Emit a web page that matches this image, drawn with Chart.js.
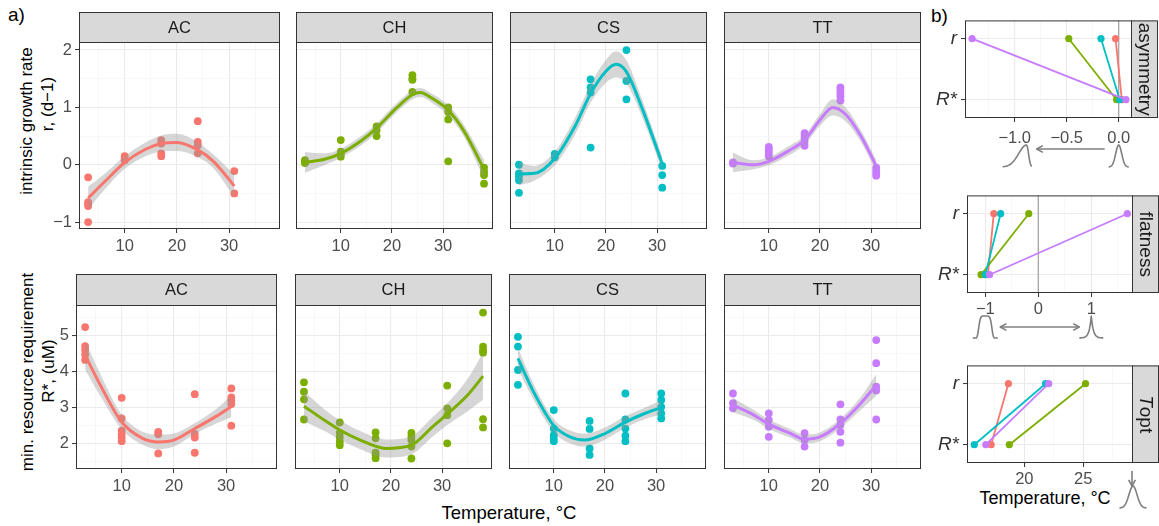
<!DOCTYPE html>
<html>
<head>
<meta charset="utf-8">
<script src="https://cdn.jsdelivr.net/npm/chart.js@4.4.0/dist/chart.umd.min.js"></script>
<style>
  body { margin: 0; background: #fff; width: 1159px; height: 526px; position: relative; overflow: hidden; font-family: "Liberation Sans", Arial, sans-serif; }
  .t { position: absolute; white-space: nowrap; color: #000; line-height: 1; }
  .ctr { transform: translate(-50%, -50%); }
  .rot { transform: translate(-50%, -50%) rotate(-90deg); }
</style>
</head>
<body>
<div class="t" style="left:8px;top:5px;font-size:19px">a)</div>
<div class="t" style="left:931px;top:6px;font-size:19px">b)</div>
<div class="t rot" style="left:26px;top:121px;font-size:17px">intrinsic growth rate</div>
<div class="t rot" style="left:47px;top:104px;font-size:17px">r, (d&minus;1)</div>
<div class="t rot" style="left:27px;top:372px;font-size:17px">min. resource requirement</div>
<div class="t rot" style="left:48px;top:371px;font-size:17px">R*, (uM)</div>
<div class="t ctr" style="left:509px;top:513px;font-size:18.5px">Temperature, °C</div>
<div class="t ctr" style="left:1045px;top:498px;font-size:18px">Temperature, °C</div>

<script>
const FONT = '"Liberation Sans", Arial, sans-serif';
const speciesNames = ["AC", "CH", "CS", "TT"];
const speciesColours = ["#F8766D", "#7CAE00", "#00BFC4", "#C77CFF"];

// r, growth rate: measured points by temperature
const rPtsAC = { 3: [-0.22, -0.65, -0.68, -0.72, -1.0], 10: [0.15, 0.1, 0.08], 17: [0.43, 0.37, 0.2, 0.15], 24: [0.76, 0.4, 0.34, 0.2], 31: [-0.11, -0.5] };
const rPtsCH = { 3: [0.08, 0.05, 0.03, 0.05], 10: [0.43, 0.23, 0.19, 0.14], 17: [0.67, 0.6, 0.5], 24: [1.56, 1.5, 1.48, 1.27], 31: [1.0, 0.92, 0.79, 0.06], 38: [-0.05, -0.12, -0.18, -0.33] };
const rPtsCS = { 3: [0.0, -0.15, -0.2, -0.27, -0.49], 10: [0.19, 0.13], 17: [1.49, 1.35, 1.26, 0.3], 24: [2.0, 1.46, 1.14], 31: [-0.02, -0.18, -0.4] };
const rPtsTT = { 3: [0.04, 0.02], 10: [0.31, 0.27, 0.23, 0.19, 0.15], 17: [0.55, 0.5, 0.46, 0.4, 0.33], 24: [1.35, 1.3, 1.25, 1.19, 1.12], 31: [-0.05, -0.1, -0.15, -0.19] };

// r, smooth fit (temps, fit, ribbon half width)
const rFitTAC = [3, 6, 10, 14, 17, 20, 24, 27, 31];
const rFitAC = [-0.58, -0.31, 0.04, 0.27, 0.37, 0.39, 0.26, 0.06, -0.37];
const rSeAC = [0.2, 0.14, 0.11, 0.12, 0.14, 0.15, 0.13, 0.12, 0.2];
const rFitTCH = [3, 7, 10, 14, 17, 21, 24, 25.5, 28, 31, 34, 38];
const rFitCH = [0.04, 0.1, 0.2, 0.42, 0.64, 1.0, 1.22, 1.26, 1.15, 0.95, 0.6, -0.08];
const rSeCH = [0.18, 0.1, 0.08, 0.08, 0.08, 0.08, 0.08, 0.08, 0.08, 0.09, 0.1, 0.16];
const rFitTCS = [3, 6, 10, 14, 17, 20, 22, 24, 27, 31];
const rFitCS = [-0.16, -0.15, 0.11, 0.68, 1.24, 1.63, 1.75, 1.62, 1.0, 0.02];
const rSeCS = [0.2, 0.13, 0.12, 0.15, 0.16, 0.2, 0.23, 0.2, 0.15, 0.12];
const rFitTTT = [3, 7, 10, 14, 17, 20, 22.5, 25, 28, 31];
const rFitTT = [0.04, 0.0, 0.06, 0.25, 0.43, 0.78, 1.0, 0.88, 0.5, -0.02];
const rSeTT = [0.17, 0.08, 0.07, 0.08, 0.08, 0.1, 0.14, 0.12, 0.1, 0.1];

// R*, min. resource requirement: measured points
const sPtsAC = { 3: [5.23, 4.7, 4.6, 4.47, 4.32], 10: [3.27, 2.7, 2.36, 2.26, 2.17, 2.07], 17: [2.33, 2.26, 1.73], 24: [3.37, 2.27, 2.17, 1.75], 31: [3.53, 3.28, 3.2, 3.1, 2.5] };
const sPtsCH = { 3: [3.7, 3.44, 3.23, 2.67], 10: [2.59, 2.3, 2.18, 2.06, 1.96], 17: [2.31, 2.15, 1.75, 1.69, 1.6], 24: [2.3, 2.19, 2.1, 1.92, 1.59], 31: [3.61, 2.98, 2.79, 2.01], 38: [5.63, 4.69, 4.59, 4.52, 2.68, 2.45] };
const sPtsCS = { 3: [4.96, 4.69, 4.04, 3.63], 10: [2.93, 2.42, 2.24, 2.15, 2.07], 17: [2.63, 2.41, 1.87, 1.69], 24: [3.39, 2.67, 2.42, 2.22, 2.07], 31: [3.39, 3.21, 3.02, 2.84, 2.7] };
const sPtsTT = { 3: [3.39, 3.12, 2.98], 10: [2.84, 2.66, 2.47, 2.19], 17: [2.29, 2.1, 1.92], 24: [3.09, 2.67, 2.52, 2.33, 2.03], 31: [4.87, 4.23, 3.58, 3.47, 2.67] };

const sFitTAC = [3, 6, 10, 14, 17, 20, 24, 28, 31];
const sFitAC = [4.45, 3.6, 2.6, 2.15, 2.05, 2.1, 2.42, 2.75, 3.03];
const sSeAC = [0.4, 0.3, 0.2, 0.18, 0.2, 0.18, 0.15, 0.2, 0.3];
const sFitTCH = [3, 7, 10, 14, 19, 24, 28, 31, 35, 38];
const sFitCH = [3.04, 2.65, 2.38, 2.1, 1.87, 1.96, 2.45, 2.82, 3.35, 3.87];
const sSeCH = [0.42, 0.3, 0.27, 0.25, 0.25, 0.25, 0.27, 0.3, 0.45, 0.65];
const sFitTCS = [3, 6, 10, 13, 16, 20, 24, 28, 31];
const sFitCS = [4.36, 3.45, 2.5, 2.2, 2.1, 2.28, 2.6, 2.85, 3.0];
const sSeCS = [0.3, 0.22, 0.18, 0.18, 0.18, 0.17, 0.16, 0.16, 0.2];
const sFitTTT = [3, 7, 10, 14, 17, 20, 24, 28, 31];
const sFitTT = [3.07, 2.8, 2.54, 2.3, 2.13, 2.19, 2.56, 3.12, 3.62];
const sSeTT = [0.2, 0.14, 0.13, 0.12, 0.12, 0.12, 0.13, 0.18, 0.3];

// b) trait values at r and R* (order AC, CH, CS, TT)
const asymR = [-0.03, -0.48, -0.17, -1.41];
const asymRstar = [0.03, -0.02, 0.01, 0.07];
const flatR = [-0.84, -0.18, -0.71, 1.68];
const flatRstar = [-0.95, -1.08, -1.0, -0.92];
const toptR = [18.64, 25.2, 21.8, 22.07];
const toptRstar = [17.17, 18.72, 15.74, 16.72];

const mult = (v, m) => Math.abs(v / m - Math.round(v / m)) < 1e-6;
const fmt = s => String(s).replace("-", "\u2212");

function toPoints(obj) {
  const pts = [];
  Object.keys(obj).forEach(t => obj[t].forEach(v => pts.push({ x: Number(t), y: v })));
  return pts;
}
function toLine(ts, vs, half, sign) {
  return ts.map((t, i) => ({ x: t, y: vs[i] + (half ? sign * half[i] : 0) }));
}
function makeCanvas(x, y, w, h) {
  const c = document.createElement("canvas");
  c.width = w; c.height = h;
  c.style.cssText = `position:absolute;left:${x}px;top:${y}px;width:${w}px;height:${h}px`;
  document.body.appendChild(c);
  return c;
}

// small grey sketch glyphs below the b) panels
const shapes = {
  normal: u => Math.exp(-0.5 * (u / 0.3) ** 2),
  skew: u => u < 0.65 ? Math.exp(-0.5 * ((u - 0.65) / 0.55) ** 2) : Math.exp(-0.5 * ((u - 0.65) / 0.13) ** 2),
  flat: u => Math.exp(-((Math.abs(u) / 0.55) ** 6)),
  peak: u => Math.exp(-Math.abs(u) / 0.17),
};
function bell(ctx, cx, base, halfW, h, shape) {
  ctx.beginPath();
  for (let i = 0; i <= 40; i++) {
    const u = -1 + i / 20;
    const x = cx + u * halfW, y = base - h * shapes[shape](u);
    if (i) ctx.lineTo(x, y); else ctx.moveTo(x, y);
  }
  ctx.stroke();
}
function arrow(ctx, x1, y1, x2, y2, both) {
  const head = (xa, ya, xb, yb) => {
    const ang = Math.atan2(yb - ya, xb - xa);
    ctx.beginPath();
    ctx.moveTo(xb - 7 * Math.cos(ang - 0.5), yb - 7 * Math.sin(ang - 0.5));
    ctx.lineTo(xb, yb);
    ctx.lineTo(xb - 7 * Math.cos(ang + 0.5), yb - 7 * Math.sin(ang + 0.5));
    ctx.stroke();
  };
  ctx.beginPath(); ctx.moveTo(x1, y1); ctx.lineTo(x2, y2); ctx.stroke();
  head(x1, y1, x2, y2);
  if (both) head(x2, y2, x1, y1);
}

const facetPlugin = {
  id: "facet",
  beforeDatasetsDraw(chart, args, o) {
    if (!o.zeroLine) return;
    const { ctx, chartArea: a } = chart;
    const x = chart.scales.x.getPixelForValue(0);
    ctx.save();
    ctx.strokeStyle = "#A6A6A6"; ctx.lineWidth = 1.3;
    ctx.beginPath(); ctx.moveTo(x, a.top); ctx.lineTo(x, a.bottom); ctx.stroke();
    ctx.restore();
  },
  afterDraw(chart, args, o) {
    const { ctx, chartArea: a } = chart;
    ctx.save();
    ctx.strokeStyle = "#333333"; ctx.lineWidth = 1;
    ctx.strokeRect(a.left + 0.5, a.top + 0.5, a.width - 1, a.height - 1);
    ctx.fillStyle = "#D9D9D9";
    if (o.side === "top") {
      ctx.fillRect(a.left, a.top - o.size, a.width, o.size);
      ctx.strokeRect(a.left + 0.5, a.top - o.size + 0.5, a.width - 1, o.size);
      ctx.fillStyle = "#1A1A1A";
      ctx.font = `${o.fontSize}px ${FONT}`;
      ctx.textAlign = "center"; ctx.textBaseline = "middle";
      ctx.fillText(o.text, (a.left + a.right) / 2, a.top - o.size / 2 + 1);
    } else {
      ctx.fillRect(a.right, a.top, o.size, a.height);
      ctx.strokeRect(a.right - 0.5, a.top + 0.5, o.size, a.height - 1);
      ctx.fillStyle = "#1A1A1A";
      ctx.translate(a.right + o.size / 2, (a.top + a.bottom) / 2);
      ctx.rotate(Math.PI / 2);
      ctx.textBaseline = "middle";
      if (o.italicFirst) {
        ctx.font = `italic ${o.fontSize}px ${FONT}`;
        const w1 = ctx.measureText(o.text[0]).width;
        ctx.font = `${o.fontSize}px ${FONT}`;
        const w2 = ctx.measureText(o.text.slice(1)).width;
        ctx.textAlign = "left";
        ctx.font = `italic ${o.fontSize}px ${FONT}`;
        ctx.fillText(o.text[0], -(w1 + w2) / 2, 1);
        ctx.font = `${o.fontSize}px ${FONT}`;
        ctx.fillText(o.text.slice(1), -(w1 + w2) / 2 + w1, 1);
      } else {
        ctx.font = `${o.fontSize}px ${FONT}`;
        ctx.textAlign = "center";
        ctx.fillText(o.text, 0, 1);
      }
    }
    ctx.restore();
    if (o.glyph) {
      const xs = chart.scales.x;
      ctx.save();
      ctx.strokeStyle = "#7F7F7F"; ctx.lineWidth = 1.6; ctx.lineJoin = "round";
      const b = a.bottom;
      if (o.glyph === "asym") {
        const x0 = xs.getPixelForValue(0), xm = xs.getPixelForValue(-1);
        bell(ctx, x0, b + 49, 10, 22, "normal");
        bell(ctx, xm + 2.5, b + 49, 14.5, 22, "skew");
        arrow(ctx, x0 - 14, b + 31, xm + 22, b + 31, false);
      } else if (o.glyph === "flat") {
        const xm = xs.getPixelForValue(-1), xp = xs.getPixelForValue(1);
        bell(ctx, xm, b + 45, 12.5, 22, "flat");
        bell(ctx, xp, b + 45, 12, 22, "peak");
        arrow(ctx, xm + 15, b + 34, xp - 12, b + 34, true);
      } else if (o.glyph === "topt") {
        bell(ctx, a.right, b + 45, 13.5, 22, "normal");
        arrow(ctx, a.right - 1, b + 8, a.right - 1, b + 23, false);
      }
      ctx.restore();
    }
  }
};

Chart.defaults.font.family = FONT;
Chart.defaults.color = "#4D4D4D";

function gridOpts(isMajor, ticks) {
  return {
    color: c => isMajor(c.tick.value) ? "#EBEBEB" : "#F4F4F4",
    lineWidth: c => isMajor(c.tick.value) ? 1.1 : 0.6,
    drawTicks: ticks,
    tickLength: 4,
    tickWidth: 1,
    tickColor: c => isMajor(c.tick.value) ? "#333333" : "rgba(0,0,0,0)",
  };
}

const rowR = { top: 12, strip: 30, plotH: 187, width: 205, lefts: [79, 292, 506, 720], yMin: -1.12, yMax: 2.14 };
const rowS = { top: 274, strip: 31, plotH: 164, width: 205, lefts: [76, 291, 505, 720], yMin: 1.3, yMax: 5.84 };

function facet(row, col, pts, fitT, fitV, fitSe) {
  const yw = col === 0 ? 36 : 0;
  const xh = 30;
  const colour = speciesColours[col];
  const canvas = makeCanvas(row.lefts[col] - yw, row.top, yw + row.width, row.strip + row.plotH + xh);
  new Chart(canvas, {
    type: "line",
    data: {
      datasets: [
        { data: toLine(fitT, fitV), borderColor: colour, borderWidth: 3, pointRadius: 0, cubicInterpolationMode: "monotone", fill: false },
        { data: toLine(fitT, fitV, fitSe, 1), borderColor: "rgba(0,0,0,0)", borderWidth: 0, pointRadius: 0, cubicInterpolationMode: "monotone", fill: "+1", backgroundColor: "rgba(153,153,153,0.4)" },
        { data: toLine(fitT, fitV, fitSe, -1), borderColor: "rgba(0,0,0,0)", borderWidth: 0, pointRadius: 0, cubicInterpolationMode: "monotone", fill: false },
        { data: toPoints(pts), showLine: false, pointRadius: 3.9, pointBackgroundColor: colour, pointBorderColor: "rgba(0,0,0,0)", pointBorderWidth: 0 },
      ],
    },
    options: {
      responsive: false,
      animation: false,
      events: [],
      layout: { padding: { top: row.strip, left: 0, right: 0, bottom: 0 } },
      plugins: {
        legend: { display: false },
        tooltip: { enabled: false },
        facet: { side: "top", text: speciesNames[col], size: row.strip, fontSize: 16.5 },
      },
      scales: {
        x: {
          type: "linear", min: 1.25, max: 39.75,
          afterFit: s => { s.height = xh; },
          border: { display: false },
          grid: gridOpts(v => mult(v, 10), true),
          ticks: { stepSize: 5, includeBounds: false, autoSkip: false, maxRotation: 0, padding: 4, color: "#4D4D4D", font: { size: 16.5 },
            callback: v => mult(v, 10) ? String(v) : "" },
        },
        y: {
          type: "linear", min: row.yMin, max: row.yMax,
          afterFit: s => { s.width = yw; },
          border: { display: false },
          grid: gridOpts(v => mult(v, 1), col === 0),
          ticks: { display: col === 0, stepSize: 0.5, includeBounds: false, autoSkip: false, padding: 3, color: "#4D4D4D", font: { size: 16.5 },
            callback: v => mult(v, 1) ? fmt(Math.round(v)) : "" },
        },
      },
    },
    plugins: [facetPlugin],
  });
}

facet(rowR, 0, rPtsAC, rFitTAC, rFitAC, rSeAC);
facet(rowR, 1, rPtsCH, rFitTCH, rFitCH, rSeCH);
facet(rowR, 2, rPtsCS, rFitTCS, rFitCS, rSeCS);
facet(rowR, 3, rPtsTT, rFitTTT, rFitTT, rSeTT);
facet(rowS, 0, sPtsAC, sFitTAC, sFitAC, sSeAC);
facet(rowS, 1, sPtsCH, sFitTCH, sFitCH, sSeCH);
facet(rowS, 2, sPtsCS, sFitTCS, sFitCS, sSeCS);
facet(rowS, 3, sPtsTT, sFitTTT, sFitTT, sSeTT);

function traitPanel(p) {
  const yw = 42, padTop = 8;
  const canvas = makeCanvas(p.left - yw, p.top - padTop, 1159 - (p.left - yw), p.canvasH);
  const datasets = [3, 2, 1, 0].map(i => ({
    data: [{ x: p.rStar[i], y: 0 }, { x: p.r[i], y: 1 }],
    borderColor: speciesColours[i], borderWidth: 1.8,
    pointRadius: 3.6, pointBackgroundColor: speciesColours[i], pointBorderColor: "rgba(0,0,0,0)", pointBorderWidth: 0,
  }));
  new Chart(canvas, {
    type: "line",
    data: { datasets },
    options: {
      responsive: false,
      animation: false,
      events: [],
      layout: { padding: { top: padTop, right: 1159 - p.right, left: 0, bottom: 0 } },
      plugins: {
        legend: { display: false },
        tooltip: { enabled: false },
        facet: { side: "right", text: p.name, size: 26, fontSize: 19, italicFirst: p.italicFirst, zeroLine: p.zeroLine, glyph: p.glyph },
      },
      scales: {
        x: {
          type: "linear", min: p.xMin, max: p.xMax,
          afterFit: s => { s.height = p.canvasH - padTop - (p.bottom - p.top); },
          border: { display: false },
          grid: gridOpts(v => mult(v, p.major), true),
          ticks: { stepSize: p.step, includeBounds: false, autoSkip: false, maxRotation: 0, padding: p.labelPad, color: "#4D4D4D", font: { size: 16.5 },
            callback: v => mult(v, p.major) ? p.label(v) : "" },
        },
        y: {
          type: "linear", min: -0.3, max: 1.3,
          afterBuildTicks: s => { s.ticks = [{ value: 0 }, { value: 1 }]; },
          afterFit: s => { s.width = yw; },
          border: { display: false },
          grid: gridOpts(() => true, true),
          ticks: { autoSkip: false, padding: 4, color: "#333333", font: { size: 19, style: "italic" },
            callback: v => v === 1 ? "r" : "R*" },
        },
      },
    },
    plugins: [facetPlugin],
  });
}

traitPanel({ name: "asymmetry", left: 965, right: 1132, top: 13, bottom: 118, canvasH: 167,
  xMin: -1.478, xMax: 0.128, step: 0.25, major: 0.5, labelPad: 7, label: v => fmt(v.toFixed(1)),
  r: asymR, rStar: asymRstar, zeroLine: true, glyph: "asym" });
traitPanel({ name: "flatness", left: 967, right: 1133, top: 188, bottom: 293, canvasH: 162,
  xMin: -1.345, xMax: 1.787, step: 0.5, major: 1, labelPad: 3, label: v => fmt(Math.round(v)),
  r: flatR, rStar: flatRstar, zeroLine: true, glyph: "flat" });
traitPanel({ name: "Topt", left: 967, right: 1133, top: 358, bottom: 463, canvasH: 176,
  xMin: 15.12, xMax: 29.24, step: 2.5, major: 5, labelPad: 3, label: v => String(Math.round(v)),
  r: toptR, rStar: toptRstar, italicFirst: true, glyph: "topt" });
</script>
</body>
</html>
